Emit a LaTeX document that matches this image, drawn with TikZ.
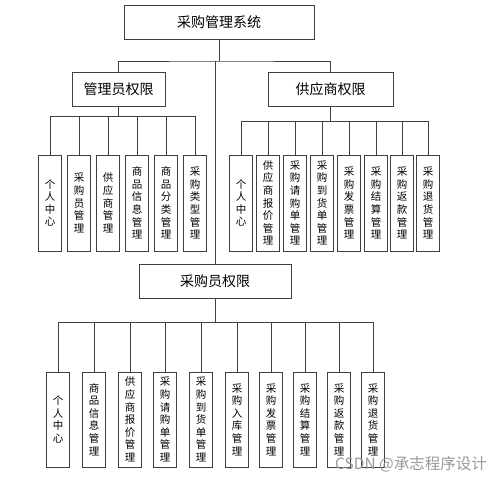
\documentclass[tikz,border=0pt]{standalone}
\usepackage{fontspec}
\setmainfont{Noto Sans CJK SC}
\begin{document}
\begin{tikzpicture}[x=1pt, y=-1pt,
    box/.style={draw=black!75, line width=0.8pt, minimum height=34pt, inner sep=0pt, font=\fontsize{14}{16}\selectfont},
    leaf/.style={draw=black!75, line width=0.8pt, minimum width=23pt, minimum height=96pt, inner sep=0pt, align=center, font=\fontsize{10.5}{12.6}\selectfont},
    link/.style={black!75, line width=0.8pt}]
    \useasboundingbox (0,0) rectangle (500,478);
    % Корень и группы
    \node[box, minimum width=190pt] (sys) at (219,22) {采购管理系统};
    \node[box, minimum width=93pt] (gly) at (118.5,89) {管理员权限};
    \node[box, minimum width=125pt] (gys) at (330.5,89) {供应商权限};
    \node[box, minimum width=152pt] (cgy) at (215,281) {采购员权限};
    \coordinate (b0) at (219,61);
    \draw[link] (sys) -- (b0);
    \draw[link] (gly) |- (b0) -| (gys);
    \draw[link] (b0 -| cgy) -- (cgy);
    % 管理员
    \foreach \x/\t [count=\i] in {50/个\\人\\中\\心, 79/采\\购\\员\\管\\理, 108/供\\应\\商\\管\\理,
        137/商\\品\\信\\息\\管\\理, 166/商\\品\\分\\类\\管\\理, 195/采\\购\\类\\型\\管\\理} {
        \node[leaf] (a\i) at (\x,203) {\t};
        \draw[link] (gly.south) -- ++(0,10) -| (a\i);
    }
    % 供应商
    \foreach \x/\t [count=\i] in {241/个\\人\\中\\心, 268/供\\应\\商\\报\\价\\管\\理, 295/采\\购\\请\\购\\单\\管\\理,
        322/采\\购\\到\\货\\单\\管\\理, 349/采\\购\\发\\票\\管\\理, 376/采\\购\\结\\算\\管\\理,
        402/采\\购\\返\\款\\管\\理, 428/采\\购\\退\\货\\管\\理} {
        \node[leaf] (s\i) at (\x,203) {\t};
        \draw[link] (gys.south) -- ++(0,15) -| (s\i);
    }
    % 采购员
    \foreach \x/\t [count=\i] in {58/个\\人\\中\\心, 94/商\\品\\信\\息\\管\\理, 130/供\\应\\商\\报\\价\\管\\理,
        165/采\\购\\请\\购\\单\\管\\理, 201/采\\购\\到\\货\\单\\管\\理, 237/采\\购\\入\\库\\管\\理,
        271/采\\购\\发\\票\\管\\理, 305/采\\购\\结\\算\\管\\理, 339/采\\购\\返\\款\\管\\理,
        373/采\\购\\退\\货\\管\\理} {
        \node[leaf, minimum height=95pt] (c\i) at (\x,419.5) {\t};
        \draw[link] (cgy.south) -- ++(0,24) -| (c\i);
    }
    \node[text=black!40, font=\fontsize{15.5}{17}\selectfont] (wm) at (411,464) {CSDN @承志程序设计};
\end{tikzpicture}
\end{document}
